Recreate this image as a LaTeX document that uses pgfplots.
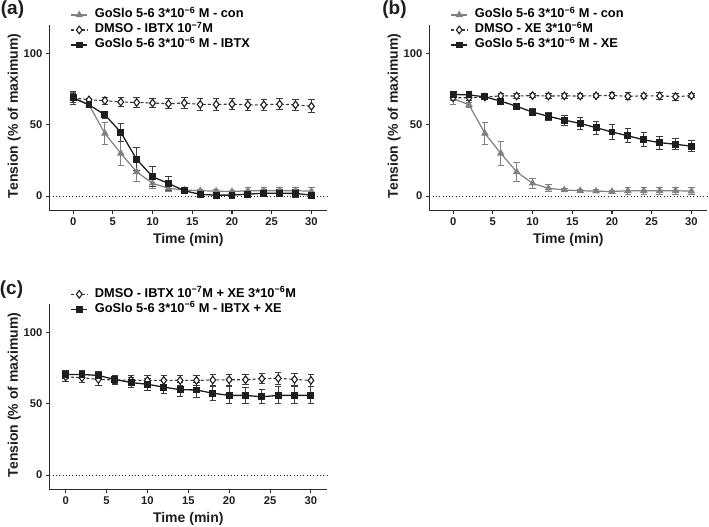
\documentclass[border=0pt]{standalone}
\usepackage{fontspec}
\setmainfont{Liberation Sans}
\usepackage{pgfplots}
\usepackage{pgfplotstable}
\pgfplotsset{compat=1.18}

\definecolor{congray}{RGB}{128,128,128}
\definecolor{blk}{RGB}{30,30,30}
\definecolor{axgray}{RGB}{45,45,45}
\definecolor{dgray}{RGB}{60,60,60}

\newcommand\tickfont{\fontsize{11.2}{12}\selectfont\bfseries}
\newcommand\labfont{\fontsize{14}{16}\selectfont\bfseries}
\newcommand\legfont{\fontsize{12.8}{14}\selectfont\bfseries}
\newcommand\panfont{\fontsize{19}{21}\selectfont\bfseries}

\pgfplotstableread{
t v e
0 68.5 4
2 64 1.5
4 44 7.5
6 30 8.5
8 17 6.5
10 9 3.5
12 5.5 2.5
14 4.3 1
16 3.8 1
18 3.5 1
20 3.2 1
22 3.8 2.5
24 3.8 2.5
26 3.8 2.5
28 3.8 2.5
30 3.5 2.5
}\con

\pgfplotstableread{
t v e
0 69 4.5
2 67.5 1
4 67 2.5
6 66 3
8 65.7 3.5
10 65.3 3
12 64.8 3.5
14 65.3 4
16 64.3 4
18 64.3 4
20 64.5 4
22 64 4
24 64 4
26 64.5 4
28 64 4
30 63 4.5
}\dmsoibtx

\pgfplotstableread{
t v e
0 69 3
2 64 1.5
4 57 2.5
6 44.8 6.5
8 25.8 8
10 13.6 7
12 8.9 5
14 3.8 2
16 1.2 2
18 0.7 1.5
20 0.7 1.5
22 1.4 2
24 2 2.5
26 2 2.5
28 1.9 2.5
30 0.7 2
}\ibtx

\pgfplotstableread{
t v e
0 69 2
2 69 2
4 69.5 1.5
6 70.3 1.5
8 70.2 1.5
10 70.5 1.5
12 70.2 1.5
14 70.3 1.5
16 70.2 1.5
18 70.4 1.5
20 70.6 2
22 70 2.5
24 70.3 1.5
26 70.3 2.5
28 69.8 2.5
30 70.4 1.5
}\dmsoxe

\pgfplotstableread{
t v e
0 71.3 1.5
2 71 1.5
4 69.6 1.5
6 66.6 2
8 63 2
10 58.9 2.5
12 56 3
14 53.3 3.5
16 51 4
18 48 4.5
20 45 5
22 42.3 5
24 39.5 5
26 37.5 4.5
28 36.4 4
30 35 4
}\xe

\pgfplotstableread{
t v e
0 69 3.5
2 68.4 3.5
4 67.2 4
6 66.8 3
8 66.7 3.5
10 66.5 3.5
12 66.5 3.5
14 66.5 3.5
16 66.5 3.5
18 66.8 4
20 67 4
22 67 3.5
24 67.7 3.5
26 68 4
28 67.2 4
30 66.5 4
}\dmsoboth

\pgfplotstableread{
t v e
0 70.7 2.5
2 70.7 2.5
4 70 2.5
6 67.2 2.5
8 65 3.5
10 63.8 4
12 61.8 4.5
14 60 5
16 59.8 5
18 57.5 5
20 56 6
22 56 5.5
24 55 5
26 56 6
28 56 6
30 56 6
}\both

\pgfplotsset{
  panel/.style={
    scale only axis,
    width=278pt,
    axis x line*=bottom, axis y line*=left,
    axis line style={axgray, line width=1.3pt},
    every tick/.style={axgray, line width=1.1pt},
    tick align=outside,
    major tick length=3.5pt,
    xtick={0,5,...,30}, ytick={0,50,100},
    ymin=-10, ymax=120, xmax=32,
    /pgf/number format/assume math mode=true,
    ticklabel style={font=\tickfont, text=blk},
    label style={font=\labfont, text=blk},
    xlabel={Time (min)},
    ylabel={Tension (\% of maximum)},
    ylabel style={at={(axis description cs:-0.126,0.51)}, anchor=center},
    clip=false,
    legend cell align=left,
    legend style={draw=none, fill=none, inner sep=0pt, row sep=1pt,
      font=\legfont,
      nodes={inner sep=1pt, text height=9pt, text depth=3pt, font=\legfont},
      /tikz/every odd column/.append style={column sep=6pt}},
    legend image code/.code={\draw[##1, mark repeat=2, mark phase=2] plot coordinates {(0pt,0pt) (8pt,0pt) (16pt,0pt)};},
  },
  conS/.style={congray, line width=1.2pt, mark=triangle*, mark size=3.2pt,
    mark options={solid, fill=congray, draw=congray},
    error bars/.cd, y dir=both, y explicit,
    error bar style={solid, line width=0.9pt, congray},
    error mark options={rotate=90, mark size=3.2pt, line width=0.9pt, congray}},
  dmsoS/.style={dgray, line width=1.1pt, dash pattern=on 3pt off 2.2pt,
    mark=diamond*, mark size=3.8pt,
    mark options={solid, fill=white, draw=blk, line width=1.1pt},
    error bars/.cd, y dir=both, y explicit,
    error bar style={solid, line width=0.9pt, dgray},
    error mark options={rotate=90, mark size=3.2pt, line width=0.9pt, dgray}},
  blkS/.style={blk, line width=1.3pt, mark=square*, mark size=2.8pt,
    mark options={solid, fill=blk, draw=blk},
    error bars/.cd, y dir=both, y explicit,
    error bar style={solid, line width=0.9pt, dgray},
    error mark options={rotate=90, mark size=3.2pt, line width=0.9pt, dgray}},
  zeroline/.style={forget plot, blk, line width=1.1pt, dash pattern=on 0.9pt off 2.4pt},
}

\begin{document}
\begin{tikzpicture}
\useasboundingbox (0,0) rectangle (709pt,527pt);

% (a)
\begin{axis}[panel, at={(49.3pt,316.6pt)}, anchor=south west, height=185.4pt,
  xmin=-3,
  xlabel style={at={(axis description cs:0.5,-0.157)}, anchor=center},
  legend style={at={(axis description cs:0.076,1.093)}, anchor=north west}]
\addplot[zeroline] coordinates {(-3,0) (32,0)};
\addplot[conS] table[x=t, y=v, y error=e] {\con};
\addlegendentry{GoSlo 5-6 3*10\textsuperscript{−6} M - con}
\addplot[dmsoS] table[x=t, y=v, y error=e] {\dmsoibtx};
\addlegendentry{DMSO - IBTX 10\textsuperscript{−7}M}
\addplot[blkS] table[x=t, y=v, y error=e] {\ibtx};
\addlegendentry{GoSlo 5-6 3*10\textsuperscript{−6} M - IBTX}
\end{axis}

% (b)
\begin{axis}[panel, at={(429.3pt,316.6pt)}, anchor=south west, height=185.4pt,
  xmin=-3,
  xlabel style={at={(axis description cs:0.5,-0.157)}, anchor=center},
  legend style={at={(axis description cs:0.076,1.093)}, anchor=north west}]
\addplot[zeroline] coordinates {(-3,0) (32,0)};
\addplot[conS] table[x=t, y=v, y error=e] {\con};
\addlegendentry{GoSlo 5-6 3*10\textsuperscript{−6} M - con}
\addplot[dmsoS] table[x=t, y=v, y error=e] {\dmsoxe};
\addlegendentry{DMSO - XE 3*10\textsuperscript{−6}M}
\addplot[blkS] table[x=t, y=v, y error=e] {\xe};
\addlegendentry{GoSlo 5-6 3*10\textsuperscript{−6} M - XE}
\end{axis}

% (c)
\begin{axis}[panel, at={(49.3pt,37.7pt)}, anchor=south west, height=185pt,
  xmin=-2,
  xlabel style={at={(axis description cs:0.5,-0.162)}, anchor=center},
  legend style={at={(axis description cs:0.076,1.093)}, anchor=north west}]
\addplot[zeroline] coordinates {(-2,0) (32,0)};
\addplot[dmsoS] table[x=t, y=v, y error=e] {\dmsoboth};
\addlegendentry{DMSO - IBTX 10\textsuperscript{−7}M + XE 3*10\textsuperscript{−6}M}
\addplot[blkS] table[x=t, y=v, y error=e] {\both};
\addlegendentry{GoSlo 5-6 3*10\textsuperscript{−6} M - IBTX + XE}
\end{axis}

\node[font=\panfont, text=blk] at (12.5pt,517pt) {(a)};
\node[font=\panfont, text=blk] at (394.5pt,517pt) {(b)};
\node[font=\panfont, text=blk] at (11.5pt,237pt) {(c)};
\end{tikzpicture}
\end{document}
